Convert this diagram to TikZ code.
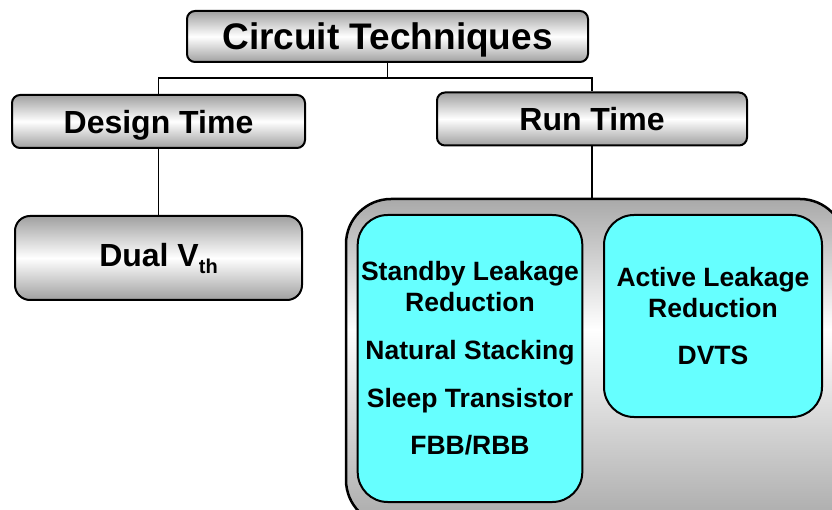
\documentclass[tikz,border=0pt]{standalone}
\usepackage{fontspec}
\setmainfont{Liberation Sans}
\usetikzlibrary{positioning}

\definecolor{boxgray}{RGB}{160,160,160}
\definecolor{leakcyan}{RGB}{102,255,255}

% light band sits a bit above the middle of the run time panel
\pgfdeclareverticalshading{panelshade}{100bp}{color(0bp)=(boxgray!90); color(25bp)=(boxgray!90); color(55bp)=(white); color(75bp)=(boxgray!90); color(100bp)=(boxgray!90)}

\begin{document}
\begin{tikzpicture}[x=1pt, y=-1pt,
    title/.style={rectangle, draw=black, line width=2pt, rounded corners=8pt, top color=boxgray, bottom color=boxgray, middle color=white, minimum width=401pt, minimum height=51pt, text depth=0pt, font=\fontsize{37}{40}\selectfont\bfseries},
    branch/.style={rectangle, draw=black, line width=2pt, rounded corners=8pt, top color=boxgray, bottom color=boxgray, middle color=white, minimum height=53pt, text depth=0pt, font=\fontsize{32}{36}\selectfont\bfseries},
    leaf/.style={rectangle, draw=black, line width=2pt, rounded corners=15pt, top color=boxgray, bottom color=boxgray, middle color=white, minimum width=287pt, minimum height=84pt, font=\fontsize{32}{36}\selectfont\bfseries},
    panel/.style={rectangle, draw=black, line width=2.5pt, rounded corners=45pt, shading=panelshade, minimum width=499pt, minimum height=326pt},
    leak/.style={rectangle, draw=black, line width=2pt, rounded corners=30pt, fill=leakcyan, align=center, font=\fontsize{26.5}{31}\selectfont\bfseries},
    link/.style={line width=1.8pt, black}]

    \clip (0,0) rectangle (832,510);

    % Root of the tree
    \node[title] (root) at (387.5,36.5) {Circuit Techniques};

    % Second level
    \node[branch, minimum width=293pt] (design) at (158.5,121.5) {Design Time};
    \node[branch, minimum width=310pt] (run) at (592,119) {Run Time};

    % Design time leaf
    \node[leaf] (dual) at (158.5,258) {Dual V\raisebox{-7pt}{\fontsize{20}{20}\selectfont th}};

    % Run time panel with its two groups
    \node[panel] (runbox) at (595.5,362) {};
    \node[leak, minimum width=224pt, minimum height=287pt] (standby) at (470,358.5)
        {Standby Leakage\\Reduction\\[17pt]Natural Stacking\\[17pt]Sleep Transistor\\[16pt]FBB/RBB};
    \node[leak, minimum width=218pt, minimum height=202pt] (active) at (713,316)
        {Active Leakage\\Reduction\\[16pt]DVTS};

    % Tree connectors
    \draw[link] (root.south) -- ++(0,15) coordinate (fork) -| (design.north);
    \draw[link] (fork) -| (run.north);
    \draw[link] (design.south) -- (dual.north);
    \draw[link] (run.south) -- (run.south |- runbox.north);
\end{tikzpicture}
\end{document}
